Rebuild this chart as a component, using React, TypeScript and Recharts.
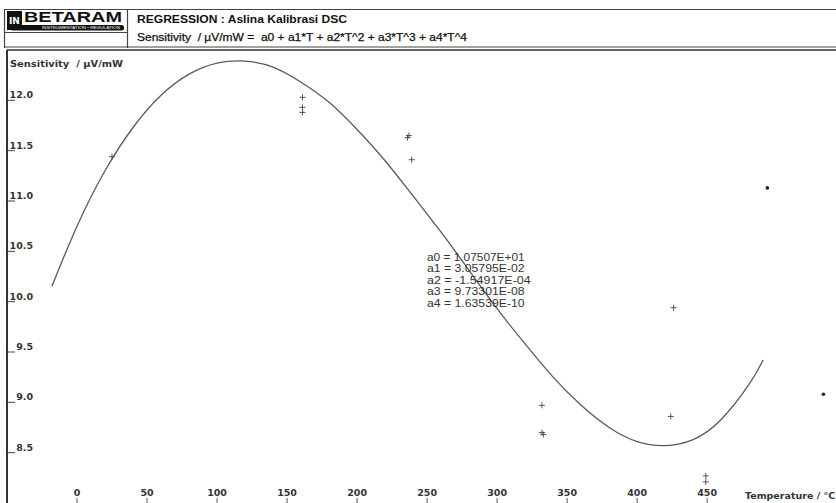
import React from "react";
import { ComposedChart, XAxis, YAxis, Line, Scatter } from "recharts";

// fitted regression curve
const curveT = [-18, 0, 20, 40, 60, 80, 100, 120, 140, 160, 180, 200, 220, 240, 260, 280, 300, 320, 340, 360, 380, 400, 420, 440, 460, 480, 490];
const curveS = [10.15, 10.75, 11.3, 11.73, 12.05, 12.26, 12.37, 12.39, 12.33, 12.18, 11.98, 11.71, 11.4, 11.05, 10.69, 10.31, 9.93, 9.58, 9.25, 8.97, 8.75, 8.61, 8.57, 8.63, 8.83, 9.18, 9.42];

// measured calibration points (+)
const crossT = [25, 161, 161, 161, 236, 237, 239, 332, 332, 333, 424, 426, 449, 449];
const crossS = [11.44, 12.03, 11.93, 11.88, 11.63, 11.65, 11.41, 8.97, 8.7, 8.68, 8.86, 9.94, 8.27, 8.21];

// excluded points (dots)
const dotT = [493, 533];
const dotS = [11.13, 9.08];

const tempTicks = [0, 50, 100, 150, 200, 250, 300, 350, 400, 450];
const topTicks = [0, 50, 100, 150, 200, 250, 300, 350, 400, 450, 500];
const sensTicks = [8.5, 9.0, 9.5, 10.0, 10.5, 11.0, 11.5, 12.0];

const coefLines = [
  "a0 = 1.07507E+01",
  "a1 = 3.05795E-02",
  "a2 = -1.54917E-04",
  "a3 = 9.73301E-08",
  "a4 = 1.63539E-10",
];

const curveData = curveT.map((t, i) => ({ t, s: curveS[i] }));
const crossData = crossT.map((t, i) => ({ t, s: crossS[i] }));
const dotData = dotT.map((t, i) => ({ t, s: dotS[i] }));

const FONT = "'DejaVu Sans', sans-serif";
const ARIAL = "'Liberation Sans', Arial, sans-serif";

const YTick = (props: any) => {
  const { y, payload } = props;
  return (
    <g>
      <line x1={7} x2={15} y1={y} y2={y} stroke="#444" strokeWidth={1} />
      <text x={33} y={y - 2} textAnchor="end" fontFamily={FONT} fontWeight="bold" fontSize={9.5} fill="#333">
        {Number(payload.value).toFixed(1)}
      </text>
    </g>
  );
};

const CrossShape = (props: any) => {
  const { cx, cy } = props;
  if (cx == null || cy == null) return null;
  return (
    <path d={`M${cx - 3},${cy}H${cx + 3}M${cx},${cy - 3}V${cy + 3}`} stroke="#555" strokeWidth={1} fill="none" />
  );
};

const DotShape = (props: any) => {
  const { cx, cy } = props;
  if (cx == null || cy == null) return null;
  return <circle cx={cx} cy={cy} r={1.8} fill="#222" />;
};

export default function App() {
  return (
    <div style={{ position: "absolute", left: 0, top: 0, width: 836, height: 503, overflow: "hidden", background: "#fff" }}>
      <ComposedChart width={836} height={503} margin={{ top: 50, left: 7, right: 0, bottom: 0 }}>
        <XAxis
          xAxisId="b"
          dataKey="t"
          type="number"
          domain={[-50, 542]}
          allowDataOverflow
          ticks={tempTicks}
          orientation="bottom"
          mirror
          axisLine={false}
          tickSize={5}
          tickMargin={2}
          tickLine={{ stroke: "#555" }}
          tick={{ fontFamily: FONT, fontWeight: "bold", fontSize: 9.5, fill: "#333" }}
        />
        <XAxis
          xAxisId="top"
          dataKey="t"
          type="number"
          domain={[-50, 542]}
          allowDataOverflow
          ticks={topTicks}
          orientation="top"
          mirror
          tickSize={8}
          tick={false}
          tickLine={{ stroke: "#555" }}
          axisLine={{ stroke: "#333", strokeWidth: 1.5 }}
        />
        <YAxis
          dataKey="s"
          type="number"
          domain={[8.0, 12.5]}
          allowDataOverflow
          ticks={sensTicks}
          mirror
          tickLine={false}
          tick={YTick}
          axisLine={{ stroke: "#333", strokeWidth: 2 }}
        />
        <Line
          xAxisId="b"
          data={curveData}
          dataKey="s"
          type="natural"
          stroke="#5a5a5a"
          strokeWidth={1.3}
          dot={false}
          isAnimationActive={false}
        />
        <Scatter xAxisId="b" data={crossData} dataKey="s" shape={CrossShape} isAnimationActive={false} />
        <Scatter xAxisId="b" data={dotData} dataKey="s" shape={DotShape} isAnimationActive={false} />
      </ComposedChart>

      <svg width={836} height={503} style={{ position: "absolute", left: 0, top: 0, pointerEvents: "none" }}>
        {/* header frame */}
        <line x1={4} x2={836} y1={9.5} y2={9.5} stroke="#444" strokeWidth={1.2} />
        <line x1={4.5} x2={4.5} y1={9} y2={48} stroke="#444" strokeWidth={1.2} />
        <line x1={127.5} x2={127.5} y1={9} y2={48} stroke="#444" strokeWidth={1.2} />
        <line x1={4} x2={127} y1={32.5} y2={32.5} stroke="#444" strokeWidth={1} />
        <line x1={4} x2={836} y1={47} y2={47} stroke="#444" strokeWidth={1.2} />

        {/* logo */}
        <rect x={7} y={11} width={15} height={19} fill="#111" />
        <text x={9} y={24} fontFamily={FONT} fontWeight="bold" fontSize={9} fill="#fff">IN</text>
        <text x={24} y={21.5} fontFamily={ARIAL} fontWeight="bold" fontSize={14} fill="#111" textLength={98} lengthAdjust="spacingAndGlyphs">
          BETARAM
        </text>
        <rect x={10} y={25} width={114} height={5.5} rx={2.5} fill="#111" />
        <text x={42} y={29.4} fontFamily={ARIAL} fontSize={4} fill="#fff" textLength={78} lengthAdjust="spacingAndGlyphs">
          INSTRUMENTATION • REGULATION
        </text>

        <text x={137} y={22.5} fontFamily={ARIAL} fontWeight="bold" fontSize={11.5} fill="#111" textLength={210} lengthAdjust="spacingAndGlyphs">
          REGRESSION :  Aslina Kalibrasi DSC
        </text>
        <text x={137} y={41} fontFamily={ARIAL} fontSize={10.5} fill="#111" stroke="#111" strokeWidth={0.25} textLength={330} lengthAdjust="spacingAndGlyphs" style={{ whiteSpace: "pre" }}>
          Sensitivity  / µV/mW =  a0 + a1*T + a2*T^2 + a3*T^3 + a4*T^4
        </text>

        {/* axis titles */}
        <text x={10} y={67} fontFamily={FONT} fontWeight="bold" fontSize={9.5} fill="#333" textLength={113} lengthAdjust="spacingAndGlyphs" style={{ whiteSpace: "pre" }}>
          Sensitivity  / µV/mW
        </text>
        <text x={745} y={499} fontFamily={FONT} fontWeight="bold" fontSize={9.5} fill="#333" style={{ whiteSpace: "pre" }}>
          Temperature / °C
        </text>

        {/* coefficients */}
        {coefLines.map((c, i) => (
          <text key={c} x={427} y={260.5 + i * 11.6} fontFamily={ARIAL} fontSize={11} fill="#333" textLength={c.length * 6.1} lengthAdjust="spacingAndGlyphs">
            {c}
          </text>
        ))}
      </svg>
    </div>
  );
}
